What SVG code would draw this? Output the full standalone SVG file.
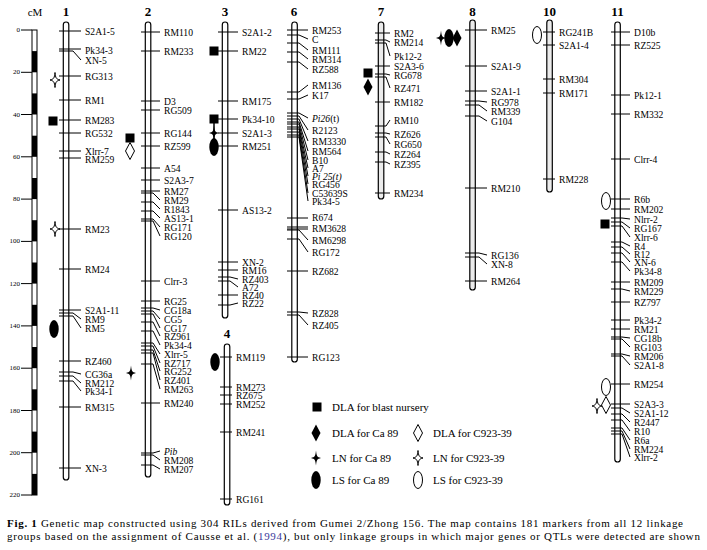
<svg xmlns="http://www.w3.org/2000/svg" width="707" height="550" viewBox="0 0 707 550">
<style>
text{font-family:"Liberation Serif","Times New Roman",serif;fill:#000}
.l{font-size:9.6px;dominant-baseline:central}
.n{font-size:13px;font-weight:bold;text-anchor:middle}
.s{font-size:7px;text-anchor:end;dominant-baseline:central}
.lg{font-size:11px;dominant-baseline:central}
.c{fill:#fff;stroke:#000;stroke-width:1.2}
.g{fill:#ebebeb;stroke:#000;stroke-width:1.2}
.t{fill:none;stroke:#000;stroke-width:1}
.cap{font-size:11px}
</style>
<defs>
<rect id="sq" x="-4.5" y="-4.5" width="9" height="9" fill="#000"/>
<path id="dia" d="M0-8.5L4.5 0L0 8.5L-4.5 0Z" fill="#000"/>
<path id="odia" d="M0-8.5L4.5 0L0 8.5L-4.5 0Z" fill="#fff" stroke="#000" stroke-width="1"/>
<path id="star" d="M0-7.5C0.6-2 1-1 5 0C1 1 0.6 2 0 7.5C-0.6 2-1 1-5 0C-1-1-0.6-2 0-7.5Z" fill="#000"/>
<path id="ostar" d="M0-7.5C0.6-2 1-1 5 0C1 1 0.6 2 0 7.5C-0.6 2-1 1-5 0C-1-1-0.6-2 0-7.5Z" fill="#fff" stroke="#000" stroke-width="1"/>
<ellipse id="ell" rx="4.7" ry="9" fill="#000"/>
<ellipse id="oell" rx="4.5" ry="8.5" fill="#fff" stroke="#000" stroke-width="1"/>
</defs>
<rect width="707" height="550" fill="#fff"/>

<g id="scale">
<text x="35" y="16" style="font-size:11px;text-anchor:middle">cM</text>
<rect x="32" y="30" width="5" height="465" fill="#fff" stroke="#000" stroke-width="1"/>
<g fill="#000">
<rect x="32" y="51.1" width="5" height="21.2"/><rect x="32" y="93.4" width="5" height="21.1"/><rect x="32" y="135.7" width="5" height="21.1"/><rect x="32" y="178" width="5" height="21.1"/><rect x="32" y="220.2" width="5" height="21.2"/><rect x="32" y="262.5" width="5" height="21.1"/><rect x="32" y="304.8" width="5" height="21.1"/><rect x="32" y="347" width="5" height="21.2"/><rect x="32" y="389.3" width="5" height="21.2"/><rect x="32" y="431.6" width="5" height="21.1"/><rect x="32" y="473.9" width="5" height="21.1"/>
</g>
<path class="t" d="M21 30H32M21 72.3H32M21 114.5H32M21 156.8H32M21 199.1H32M21 241.4H32M21 283.6H32M21 325.9H32M21 368.2H32M21 410.5H32M21 452.7H32M21 495H32"/>
<text class="s" x="20" y="30">0</text><text class="s" x="20" y="72.3">20</text><text class="s" x="20" y="114.5">40</text><text class="s" x="20" y="156.8">60</text><text class="s" x="20" y="199.1">80</text><text class="s" x="20" y="241.4">100</text><text class="s" x="20" y="283.6">120</text><text class="s" x="20" y="325.9">140</text><text class="s" x="20" y="368.2">160</text><text class="s" x="20" y="410.5">180</text><text class="s" x="20" y="452.7">200</text><text class="s" x="20" y="495">220</text>
</g>

<g id="chr1">
<rect class="c" x="63.3" y="22" width="5.5" height="458" rx="2.75"/>
<text class="n" x="66" y="16">1</text>
<text class="l" x="85" y="31">S2A1-5</text><text class="l" x="85" y="50">Pk34-3</text><text class="l" x="85" y="60">XN-5</text><text class="l" x="85" y="76">RG313</text><text class="l" x="85" y="100">RM1</text><text class="l" x="85" y="120">RM283</text><text class="l" x="85" y="133">RG532</text><text class="l" x="85" y="151">Xlrr-7</text><text class="l" x="85" y="159">RM259</text><text class="l" x="85" y="229">RM23</text><text class="l" x="85" y="269">RM24</text><text class="l" x="85" y="310">S2A1-11</text><text class="l" x="85" y="319">RM9</text><text class="l" x="85" y="328">RM5</text><text class="l" x="85" y="361">RZ460</text><text class="l" x="85" y="374">CG36a</text><text class="l" x="85" y="383">RM212</text><text class="l" x="85" y="391">Pk34-1</text><text class="l" x="85" y="407">RM315</text><text class="l" x="85" y="468">XN-3</text>
<use href="#ostar" x="55" y="80"/><use href="#sq" x="53" y="121"/><use href="#ostar" x="55" y="229"/><use href="#ell" x="54" y="329"/>
</g>

<g id="chr2">
<rect class="c" x="145.3" y="22" width="5.5" height="455" rx="2.75"/>
<text class="n" x="148" y="16">2</text>
<text class="l" x="164" y="32">RM110</text><text class="l" x="164" y="51">RM233</text><text class="l" x="164" y="101">D3</text><text class="l" x="164" y="110">RG509</text><text class="l" x="164" y="133">RG144</text><text class="l" x="164" y="146">RZ599</text><text class="l" x="164" y="168">A54</text><text class="l" x="164" y="180">S2A3-7</text><text class="l" x="164" y="191">RM27</text><text class="l" x="164" y="200">RM29</text><text class="l" x="164" y="209">R1843</text><text class="l" x="164" y="218">AS13-1</text><text class="l" x="164" y="227">RG171</text><text class="l" x="164" y="236">RG120</text><text class="l" x="164" y="281">Clrr-3</text><text class="l" x="164" y="301">RG25</text><text class="l" x="164" y="310">CG18a</text><text class="l" x="164" y="319">CG5</text><text class="l" x="164" y="328">CG17</text><text class="l" x="164" y="336">RZ961</text><text class="l" x="164" y="345">Pk34-4</text><text class="l" x="164" y="354">Xlrr-5</text><text class="l" x="164" y="363">RZ717</text><text class="l" x="164" y="371">RG252</text><text class="l" x="164" y="380">RZ401</text><text class="l" x="164" y="389">RM263</text><text class="l" x="164" y="403">RM240</text><text class="l" x="164" y="451" font-style="italic">Pib</text><text class="l" x="164" y="460">RM208</text><text class="l" x="164" y="469">RM207</text>
<use href="#sq" x="130" y="138"/><use href="#odia" x="130" y="151"/><use href="#star" x="131" y="373"/>
</g>

<g id="chr3">
<rect class="c" x="222.3" y="22" width="5.5" height="296" rx="2.75"/>
<text class="n" x="225" y="16">3</text>
<text class="l" x="242" y="32">S2A1-2</text><text class="l" x="242" y="51">RM22</text><text class="l" x="242" y="101">RM175</text><text class="l" x="242" y="119">Pk34-10</text><text class="l" x="242" y="133">S2A1-3</text><text class="l" x="242" y="146">RM251</text><text class="l" x="242" y="210">AS13-2</text><text class="l" x="242" y="262">XN-2</text><text class="l" x="242" y="270">RM16</text><text class="l" x="242" y="279">RZ403</text><text class="l" x="242" y="287">A72</text><text class="l" x="242" y="295">RZ40</text><text class="l" x="242" y="303">RZ22</text>
<use href="#sq" x="214" y="51"/><path d="M214 119V146" stroke="#000" stroke-width="1.5"/><use href="#sq" x="214" y="119"/><use href="#star" x="214" y="133"/><use href="#ell" x="214" y="147"/>
</g>

<g id="chr4">
<rect class="c" x="224.3" y="344" width="5.5" height="161" rx="2.75"/>
<text class="n" x="227" y="338">4</text>
<text class="l" x="236" y="357">RM119</text><text class="l" x="236" y="387">RM273</text><text class="l" x="236" y="395">RZ675</text><text class="l" x="236" y="404">RM252</text><text class="l" x="236" y="432">RM241</text><text class="l" x="236" y="499">RG161</text>
<use href="#ell" x="215" y="362"/>
</g>

<g id="chr6">
<rect class="c" x="291.8" y="22" width="5.5" height="340" rx="2.75"/>
<text class="n" x="294" y="16">6</text>
<text class="l" x="312" y="30">RM253</text><text class="l" x="312" y="39">C</text><text class="l" x="312" y="50">RM111</text><text class="l" x="312" y="59">RM314</text><text class="l" x="312" y="69">RZ588</text><text class="l" x="312" y="85">RM136</text><text class="l" x="312" y="95">K17</text><text class="l" x="312" y="118"><tspan font-style="italic">Pi26</tspan>(t)</text><text class="l" x="312" y="130">R2123</text><text class="l" x="312" y="141">RM3330</text><text class="l" x="312" y="151">RM564</text><text class="l" x="312" y="160">B10</text><text class="l" x="312" y="168">A7</text><text class="l" x="312" y="176" font-style="italic">Pi 25(t)</text><text class="l" x="312" y="184">RG456</text><text class="l" x="312" y="193">C53639S</text><text class="l" x="312" y="201">Pk34-5</text><text class="l" x="312" y="217">R674</text><text class="l" x="312" y="228">RM3628</text><text class="l" x="312" y="240">RM6298</text><text class="l" x="312" y="252">RG172</text><text class="l" x="312" y="271">RZ682</text><text class="l" x="312" y="313">RZ828</text><text class="l" x="312" y="325">RZ405</text><text class="l" x="312" y="357">RG123</text>
</g>

<g id="chr7">
<rect class="g" x="378.3" y="22" width="5.5" height="177" rx="2.75"/>
<text class="n" x="381" y="16">7</text>
<text class="l" x="394" y="33">RM2</text><text class="l" x="394" y="42">RM214</text><text class="l" x="394" y="56">Pk12-2</text><text class="l" x="394" y="66">S2A3-6</text><text class="l" x="394" y="75">RG678</text><text class="l" x="394" y="88">RZ471</text><text class="l" x="394" y="102">RM182</text><text class="l" x="394" y="120">RM10</text><text class="l" x="394" y="134">RZ626</text><text class="l" x="394" y="144">RG650</text><text class="l" x="394" y="154">RZ264</text><text class="l" x="394" y="164">RZ395</text><text class="l" x="394" y="193">RM234</text>
<use href="#sq" x="368" y="73"/><use href="#dia" x="368" y="87"/>
</g>

<g id="chr8">
<rect class="g" x="469.8" y="20" width="5.5" height="270" rx="2.75"/>
<text class="n" x="472.5" y="16">8</text>
<text class="l" x="491" y="30">RM25</text><text class="l" x="491" y="66">S2A1-9</text><text class="l" x="491" y="91">S2A1-1</text><text class="l" x="491" y="102">RG978</text><text class="l" x="491" y="111">RM339</text><text class="l" x="491" y="121">G104</text><text class="l" x="491" y="188">RM210</text><text class="l" x="491" y="255">RG136</text><text class="l" x="491" y="264">XN-8</text><text class="l" x="491" y="281">RM264</text>
<use href="#star" x="441" y="38"/><use href="#ell" x="449" y="38"/><use href="#dia" x="457" y="38"/>
</g>

<g id="chr10">
<rect class="g" x="546.8" y="20" width="5.5" height="172" rx="2.75"/>
<text class="n" x="549.5" y="16">10</text>
<text class="l" x="559" y="32">RG241B</text><text class="l" x="559" y="45">S2A1-4</text><text class="l" x="559" y="79">RM304</text><text class="l" x="559" y="93">RM171</text><text class="l" x="559" y="179">RM228</text>
<use href="#oell" x="537" y="35"/>
</g>

<g id="chr11">
<rect class="c" x="614.8" y="22" width="5.5" height="440" rx="2.75"/>
<text class="n" x="617.5" y="16">11</text>
<text class="l" x="634" y="32">D10b</text><text class="l" x="634" y="45">RZ525</text><text class="l" x="634" y="95">Pk12-1</text><text class="l" x="634" y="114">RM332</text><text class="l" x="634" y="159">Clrr-4</text><text class="l" x="634" y="199">R6b</text><text class="l" x="634" y="209">RM202</text><text class="l" x="634" y="219">Nlrr-2</text><text class="l" x="634" y="228">RG167</text><text class="l" x="634" y="237">Xlrr-6</text><text class="l" x="634" y="246">R4</text><text class="l" x="634" y="254">R12</text><text class="l" x="634" y="262">XN-6</text><text class="l" x="634" y="271">Pk34-8</text><text class="l" x="634" y="282">RM209</text><text class="l" x="634" y="291">RM229</text><text class="l" x="634" y="302">RZ797</text><text class="l" x="634" y="320">Pk34-2</text><text class="l" x="634" y="329">RM21</text><text class="l" x="634" y="338">CG18b</text><text class="l" x="634" y="347">RG103</text><text class="l" x="634" y="356">RM206</text><text class="l" x="634" y="365">S2A1-8</text><text class="l" x="634" y="384">RM254</text><text class="l" x="634" y="404">S2A3-3</text><text class="l" x="634" y="413">S2A1-12</text><text class="l" x="634" y="422">R2447</text><text class="l" x="634" y="431">R10</text><text class="l" x="634" y="440">R6a</text><text class="l" x="634" y="449">RM224</text><text class="l" x="634" y="457">Xlrr-2</text>
<use href="#oell" x="606" y="201"/><use href="#sq" x="605" y="224"/><use href="#oell" x="606" y="387"/><use href="#odia" x="606" y="405"/><use href="#ostar" x="597" y="406"/>
</g>

<g id="connectors">
<path class="t" d="M59 31H81M59 49H81M59 51H73L81 60M59 76H81M59 100H81M59 120H81M59 133H81M59 151H81M59 158H81M59 229H81M59 269H81M59 310H81M59 313H73L81 319M59 316H73L81 328M59 361H81M59 372H73L81 374M59 376H73L81 383M59 381H73L81 391M59 407H81M59 468H81"/>
<path class="t" d="M141 32H160M141 51H160M141 101H160M141 110H160M141 133H160M141 146H160M141 168H160M141 180H160M141 191H160M141 193H153L160 200M141 202H153L160 209M141 211H153L160 218M141 219H153L160 227M141 221H153L160 236M141 281H160M141 301H160M141 308H153L160 310M141 311H153L160 319M141 314H153L160 328M141 322H153L160 336M141 331H153L160 345M141 343H153L160 354M141 346H153L160 363M141 350H153L160 371M141 353H153L160 380M141 364H153L160 389M141 403H160M141 453H153L160 451M141 455H153L160 460M141 465H153L160 469"/>
<path class="t" d="M218 32H238M218 51H238M218 101H238M218 119H238M218 133H238M218 146H238M218 210H238M218 262H238M218 270H238M218 277H230L238 279M218 281H230L238 287M218 295H238M218 305H230L238 303"/>
<path class="t" d="M220 357H232M220 387H232M220 395H232M220 404H232M220 432H232M220 499H232"/>
<path class="t" d="M287 30H308M287 35H299L308 39M287 43H299L308 50M287 52H299L308 59M287 62H299L308 69M287 92H299L308 85M287 99H299L308 95M287 113H299L308 118M287 116H299L308 130M287 119H299L308 141M287 122H299L308 151M287 124H299L308 160M287 127H299L308 168M287 129H299L308 176M287 132H299L308 184M287 135H299L308 193M287 137H299L308 201M287 218H308M287 227H308M287 229H308M287 230H299L308 240M287 239H299L308 252M287 271H308M287 312H299L308 313M287 315H299L308 325M287 357H308"/>
<path class="t" d="M375 33H390M375 40H386L390 42M375 43H386L390 56M375 66H390M375 74H386L390 75M375 77H386L390 88M375 102H390M375 126H386L390 120M375 133H386L390 134M375 137H386L390 144M375 152H386L390 154M375 162H386L390 164M375 193H390"/>
<path class="t" d="M465 30H487M465 66H487M465 91H487M465 101H479L487 102M465 105H479L487 111M465 116H479L487 121M465 188H487M465 253H479L487 255M465 257H479L487 264M465 281H487"/>
<path class="t" d="M543 32H555M543 45H555M543 79H555M543 93H555M543 179H555"/>
<path class="t" d="M611 32H630M611 45H630M611 95H630M611 114H630M611 159H630M611 199H630M611 209H630M611 218H622L630 219M611 222H622L630 228M611 226H622L630 237M611 242H622L630 246M611 247H622L630 254M611 253H622L630 262M611 262H622L630 271M611 282H630M611 289H622L630 291M611 302H630M611 320H630M611 329H630M611 337H622L630 338M611 339H622L630 347M611 354H622L630 356M611 356H622L630 365M611 384H630M611 404H630M611 408H622L630 413M611 414H622L630 422M611 420H622L630 431M611 428H622L630 440M611 431H622L630 449M611 434H622L630 457"/>
</g>

<g id="legend">
<use href="#sq" x="317" y="407"/><text class="lg" x="332" y="407">DLA for blast nursery</text>
<use href="#dia" x="316" y="433"/><text class="lg" x="332" y="433">DLA for Ca 89</text>
<use href="#odia" x="418" y="433"/><text class="lg" x="433" y="433">DLA for C923-39</text>
<use href="#star" x="316" y="458"/><text class="lg" x="332" y="458">LN for Ca 89</text>
<use href="#ostar" x="418" y="458"/><text class="lg" x="433" y="458">LN for C923-39</text>
<use href="#ell" x="316" y="480"/><text class="lg" x="332" y="480">LS for Ca 89</text>
<use href="#oell" x="418" y="480"/><text class="lg" x="433" y="480">LS for C923-39</text>
</g>

<g id="caption">
<text class="cap" x="7" y="527" textLength="676" lengthAdjust="spacing"><tspan font-weight="bold">Fig. 1</tspan> Genetic map constructed using 304 RILs derived from Gumei 2/Zhong 156. The map contains 181 markers from all 12 linkage</text>
<text class="cap" x="7" y="540" textLength="693" lengthAdjust="spacing">groups based on the assignment of Causse et al. (<tspan fill="#3a3a9a">1994</tspan>), but only linkage groups in which major genes or QTLs were detected are shown</text>
</g>
</svg>
